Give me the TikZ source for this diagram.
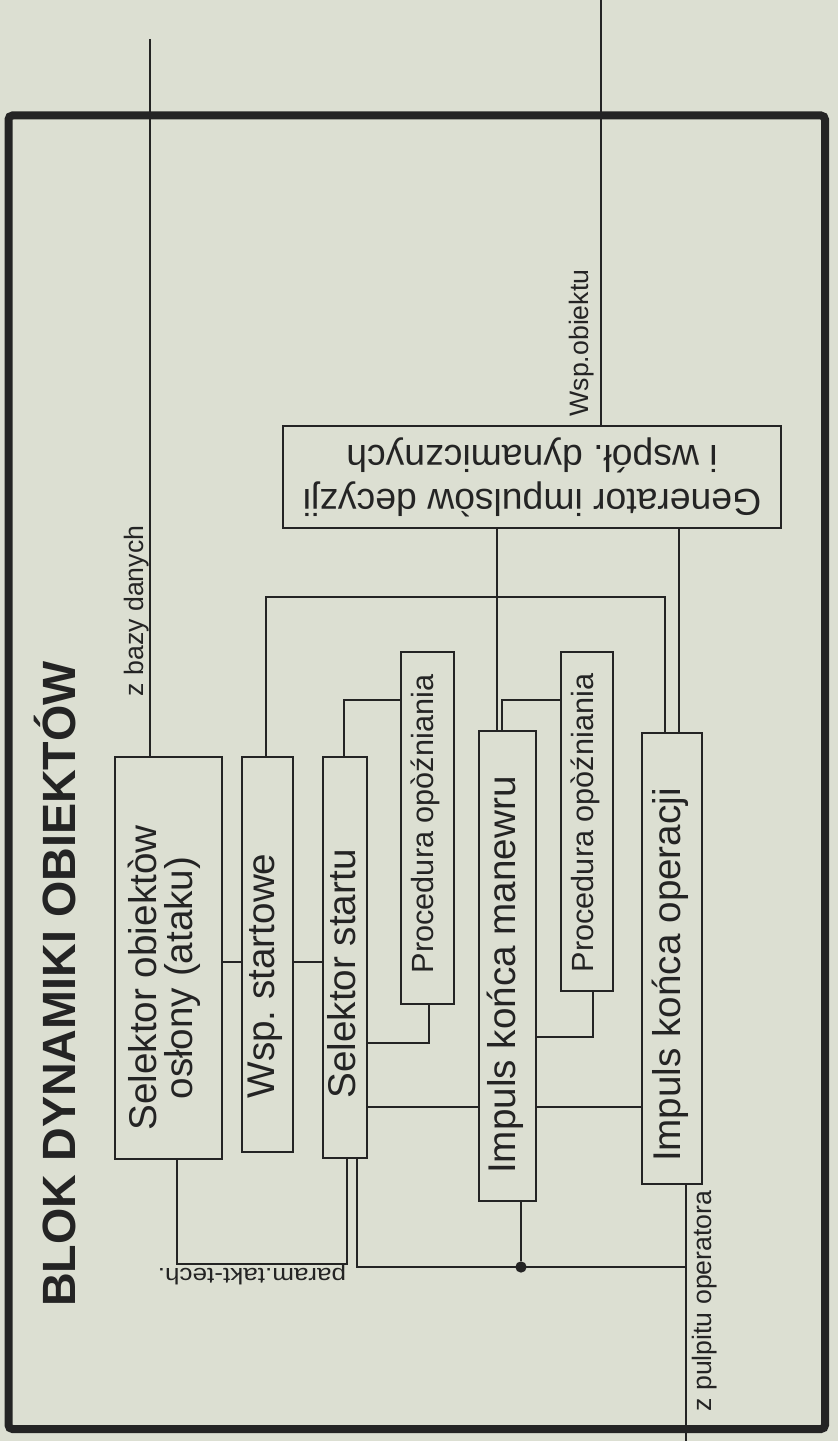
\documentclass[tikz,border=0pt]{standalone}
\usepackage{fontspec}
\setmainfont{Liberation Sans}
\usetikzlibrary{fit}
\definecolor{paper}{RGB}{220,223,210}
\definecolor{ink}{RGB}{36,36,36}
\frenchspacing
\begin{document}
\begin{tikzpicture}[x=0.75pt,y=-0.75pt,
  wire/.style={draw=ink, line width=0.8pt},
  box/.style={draw=ink, line width=0.8pt, rectangle, inner sep=0pt},
  boxtxt/.style={inner sep=0pt, text=ink, font=\fontsize{29}{27}\selectfont, align=center},
  proctxt/.style={inner sep=0pt, text=ink, font=\fontsize{23}{25}\selectfont},
  lbl/.style={inner sep=0pt, text=ink, font=\fontsize{20}{22}\selectfont},
  titletxt/.style={inner sep=0pt, text=ink, font=\bfseries\fontsize{35}{38}\selectfont},
  jdot/.style={circle, fill=ink, inner sep=0pt, minimum size=8.5pt}]
\fill[paper] (0,0) rectangle (838,1441);
\useasboundingbox (0,0) rectangle (838,1441);

% outer frame
\draw[ink, line width=6pt, rounded corners=3pt] (8.5,115.5) rectangle (825,1429);

% boxes
\node[box, fit={(115,757) (222,1159)}] (so) {};
\node[box, fit={(242,757) (293,1152)}] (ws) {};
\node[box, fit={(323,757) (367,1158)}] (sst) {};
\node[box, fit={(401,652) (454,1004)}] (pr1) {};
\node[box, fit={(479,731) (536,1201)}] (ikm) {};
\node[box, fit={(561,652) (613,991)}] (pr2) {};
\node[box, fit={(642,733) (702,1184)}] (iko) {};
\node[box, fit={(283,426) (781,528)}] (gen) {};

% box texts
\node[boxtxt, rotate=90] (sot) at (164,978) {Selektor obiektòw\\osłony (ataku)};
\node[boxtxt, rotate=90] (wst) at (265,976) {Wsp. startowe};
\node[boxtxt, rotate=90] (sstt) at (342,974) {Selektor startu};
\node[proctxt, rotate=90] (pr1t) at (425,824) {Procedura opòźniania};
\node[boxtxt, rotate=90] (ikmt) at (505,975) {Impuls końca manewru};
\node[proctxt, rotate=90] (pr2t) at (585,823) {Procedura opòźniania};
\node[boxtxt, rotate=90] (ikot) at (670,975) {Impuls końca operacji};
\node[boxtxt, rotate=180, font=\fontsize{28}{33}\selectfont] (gent) at (532,477) {Generator impulsòw decyzji\\i współ. dynamicznych};

% title
\node[titletxt, rotate=90, anchor=base west] (ttl) at (75,1307) {BLOK DYNAMIKI OBIEKTÓW};

% free ends
\coordinate (dbin) at (150,39);
\coordinate (wobj) at (601,0);
\coordinate (pult) at (686,1441);

% external connectors
\draw[wire] (dbin) -- (dbin |- so.north);
\draw[wire] (wobj) -- (wobj |- gen.north);
\draw[wire] (pult |- iko.south) -- (pult);

% generator outputs
\draw[wire] (497,0 |- gen.south) -- (497,0 |- ikm.north);
\draw[wire] (679,0 |- gen.south) -- (679,0 |- iko.north);

% bus from Wsp. startowe to Impuls konca operacji
\draw[wire] (266,0 |- ws.north) -- (266,597) -- (665,597) -- (665,0 |- iko.north);

% top links to delay procedures
\draw[wire] (344,0 |- sst.north) |- (pr1.west |- 0,700);
\draw[wire] (502,0 |- ikm.north) |- (pr2.west |- 0,700);

% middle links
\draw[wire] (so.east |- 0,962) -- (ws.west |- 0,962);
\draw[wire] (ws.east |- 0,962) -- (sst.west |- 0,962);
\draw[wire] (sst.east |- 0,1043) -| (429,0 |- pr1.south);
\draw[wire] (sst.east |- 0,1107) -- (ikm.west |- 0,1107);
\draw[wire] (ikm.east |- 0,1037) -| (593,0 |- pr2.south);
\draw[wire] (ikm.east |- 0,1107) -- (iko.west |- 0,1107);

% bottom links
\draw[wire] (177,0 |- so.south) |- (347,1264) -- (347,0 |- sst.south);
\node[jdot] (j) at (521,1267) {};
\draw[wire] (357,0 |- sst.south) |- (pult |- 0,1267);
\draw[wire] (521,0 |- ikm.south) -- (j);

% labels
\node[lbl, rotate=90, anchor=base] (lbaza) at (143,611) {z bazy danych};
\node[lbl, rotate=90, anchor=base] (lwsp) at (588,343) {Wsp.obiektu};
\node[lbl, rotate=90, anchor=base] (lpul) at (711,1301) {z pulpitu operatora};
\node[lbl, rotate=180, anchor=base, font=\fontsize{17}{19}\selectfont] (lpar) at (252,1268) {\scalebox{1.15}[1]{param.takt-tech.}};
\end{tikzpicture}
\end{document}
